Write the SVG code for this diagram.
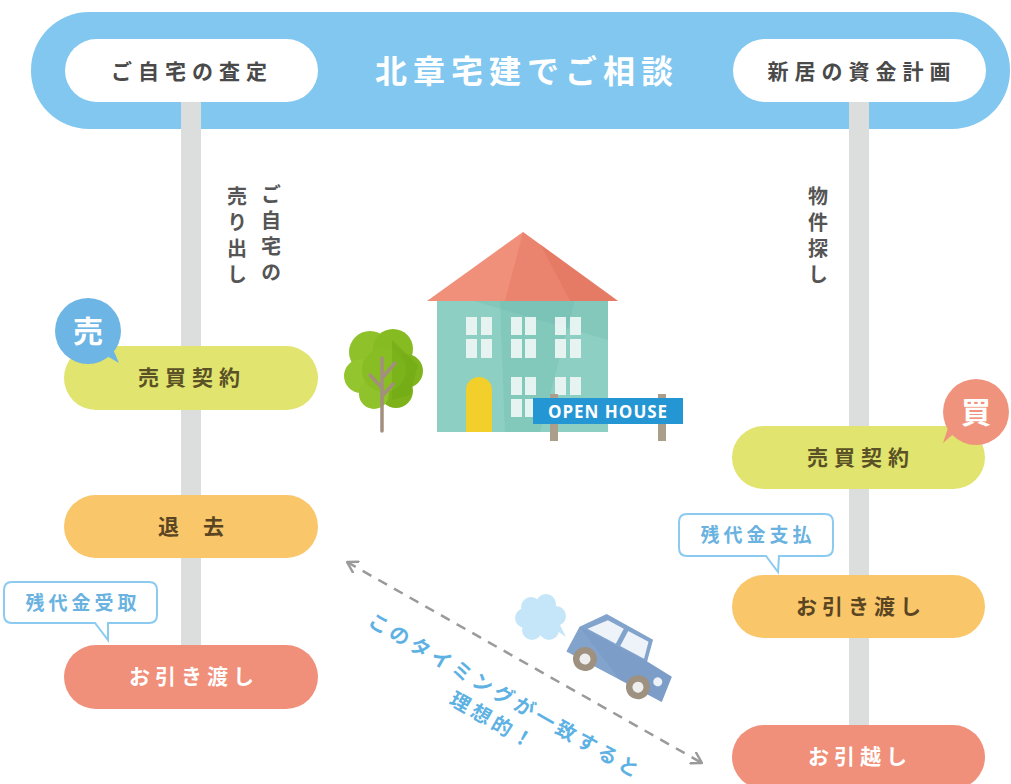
<svg xmlns="http://www.w3.org/2000/svg" width="1011" height="784" viewBox="0 0 1011 784">
  <style>
    .jp { font-family: "Noto Sans CJK JP", "Noto Sans", sans-serif; font-weight: 700; }
    .bar { fill: #dcdddd; }
    .pill-lime { fill: #e1e46e; }
    .pill-orange { fill: #f9c66a; }
    .pill-salmon { fill: #f0907a; }
    .t-lime { fill: #5a5226; font-size: 21px; letter-spacing: 6px; }
    .t-orange { fill: #5a4522; font-size: 21px; letter-spacing: 5px; }
    .t-white { fill: #ffffff; font-size: 21px; letter-spacing: 5px; }
    .t-head { fill: #4a4a4a; font-size: 21px; letter-spacing: 6px; }
    .t-vert { fill: #555555; font-size: 20px; letter-spacing: 6px; writing-mode: vertical-rl; }
    .callout { fill: #ffffff; stroke: #8ccbef; stroke-width: 2; }
    .t-callout { fill: #6ab2df; font-size: 19px; letter-spacing: 4px; }
    .t-diag { fill: #5eb1e3; font-size: 20px; letter-spacing: 4px; }
    .win { fill: #eef6f5; opacity: 0.92; }
  </style>
  <defs>
    <marker id="chev" viewBox="0 0 12 14" refX="11" refY="7" markerWidth="12" markerHeight="14" markerUnits="userSpaceOnUse" orient="auto-start-reverse">
      <path d="M1,1 L11,7 L1,13" fill="none" stroke="#9a9a9a" stroke-width="2.4" stroke-linecap="round" stroke-linejoin="round"/>
    </marker>
  </defs>

  <rect width="1011" height="784" fill="#ffffff"/>

  <!-- header band -->
  <g id="header">
    <rect x="31" y="12" width="979" height="117" rx="58" fill="#81c7ef"/>
    <text class="jp" x="527" y="83" text-anchor="middle" fill="#ffffff" font-size="32" letter-spacing="6">北章宅建でご相談</text>
  </g>

  <!-- timeline rails -->
  <g id="connectors">
    <rect class="bar" x="181" y="100" width="20" height="550"/>
    <rect class="bar" x="849" y="100" width="20" height="630"/>
    <line x1="347" y1="562" x2="702" y2="763" stroke="#9a9a9a" stroke-width="2.5" stroke-dasharray="10 8" marker-start="url(#chev)" marker-end="url(#chev)"/>
  </g>

  <g id="node-satei">
    <rect x="65" y="39" width="253" height="63" rx="31.5" fill="#ffffff"/>
    <text class="jp t-head" x="192" y="79" text-anchor="middle">ご自宅の査定</text>
  </g>
  <g id="node-shikin">
    <rect x="733" y="39" width="253" height="63" rx="31.5" fill="#ffffff"/>
    <text class="jp t-head" x="862" y="79" text-anchor="middle">新居の資金計画</text>
  </g>

  <!-- vertical labels -->
  <g id="label-uridashi">
    <text class="jp t-vert" x="271" y="184">ご自宅の</text>
    <text class="jp t-vert" x="237" y="186">売り出し</text>
  </g>
  <g id="label-bukken">
    <text class="jp t-vert" x="818" y="186">物件探し</text>
  </g>

  <!-- sell side -->
  <g id="node-sell-contract">
    <rect class="pill-lime" x="64" y="346" width="254" height="64" rx="32"/>
    <text class="jp t-lime" x="192" y="385" text-anchor="middle">売買契約</text>
    <path d="M100,352 L119,363 L108,338 Z" fill="#6cb5e4"/>
    <circle cx="88" cy="331" r="33" fill="#6cb5e4"/>
    <text class="jp" x="88" y="342" text-anchor="middle" fill="#ffffff" font-size="30">売</text>
  </g>
  <g id="node-taikyo">
    <rect class="pill-orange" x="64" y="495" width="254" height="63" rx="31.5"/>
    <text class="jp" x="203" y="534" text-anchor="middle" fill="#5a4522" font-size="21" letter-spacing="24">退去</text>
  </g>
  <g id="node-uketori">
    <path class="callout" d="M12,582 H149 Q157,582 157,590 V615 Q157,623 149,623 H108 V640 L95,623 H12 Q4,623 4,615 V590 Q4,582 12,582 Z"/>
    <text class="jp t-callout" x="83" y="610" text-anchor="middle">残代金受取</text>
  </g>
  <g id="node-sell-handover">
    <rect class="pill-salmon" x="64" y="645" width="254" height="64" rx="32"/>
    <text class="jp t-white" x="194" y="684" text-anchor="middle">お引き渡し</text>
  </g>

  <!-- buy side -->
  <g id="node-buy-contract">
    <rect class="pill-lime" x="732" y="426" width="253" height="63" rx="31.5"/>
    <text class="jp t-lime" x="861" y="465" text-anchor="middle">売買契約</text>
    <path d="M958,430 L943,443 L952,416 Z" fill="#f0937c"/>
    <circle cx="976" cy="412" r="33" fill="#f0937c"/>
    <text class="jp" x="976" y="423" text-anchor="middle" fill="#ffffff" font-size="30">買</text>
  </g>
  <g id="node-shiharai">
    <path class="callout" d="M687,514 H825 Q833,514 833,522 V548 Q833,556 825,556 H779 L778,572 L766,556 H687 Q679,556 679,548 V522 Q679,514 687,514 Z"/>
    <text class="jp t-callout" x="758" y="542" text-anchor="middle">残代金支払</text>
  </g>
  <g id="node-buy-handover">
    <rect class="pill-orange" x="732" y="575" width="253" height="63" rx="31.5"/>
    <text class="jp t-orange" x="861" y="614" text-anchor="middle">お引き渡し</text>
  </g>
  <g id="node-hikkoshi">
    <rect class="pill-salmon" x="732" y="725" width="253" height="64" rx="32"/>
    <text class="jp t-white" x="860" y="764" text-anchor="middle">お引越し</text>
  </g>

  <!-- timing note along the dashed arrow -->
  <g id="note-timing">
    <text class="jp t-diag" transform="translate(506,695) rotate(29.8)" text-anchor="middle" dominant-baseline="central">このタイミングが一致すると</text>
    <text class="jp t-diag" transform="translate(494,720) rotate(29.8)" text-anchor="middle" dominant-baseline="central">理想的！</text>
  </g>

  <!-- house with tree and sign -->
  <g id="house">
    <!-- tree -->
    <g id="tree">
      <circle cx="370" cy="352" r="21" fill="#8ec12a"/>
      <circle cx="393" cy="349" r="20" fill="#86bb22"/>
      <circle cx="406" cy="371" r="17" fill="#7fb41c"/>
      <circle cx="361" cy="376" r="17" fill="#93c52e"/>
      <circle cx="396" cy="391" r="17" fill="#7db21b"/>
      <circle cx="374" cy="394" r="15" fill="#8fc22b"/>
      <circle cx="384" cy="370" r="22" fill="#88bd24"/>
      <path d="M392,340 L418,365 L410,395 L392,400 Z" fill="#6da612" opacity="0.45"/>
      <path d="M382,431 V358 M382,388 L370,375 M383,377 L395,363 M383,395 L393,384" stroke="#a28f7d" stroke-width="3.5" fill="none" stroke-linecap="round"/>
    </g>
    <!-- walls -->
    <rect x="437" y="300" width="171" height="132" fill="#8dcfc2"/>
    <path d="M500,300 L575,300 L540,432 L505,432 Z" fill="#6fbaae" opacity="0.35"/>
    <path d="M470,300 L608,300 L608,340 Z" fill="#6fbaae" opacity="0.3"/>
    <!-- roof -->
    <path d="M523,232 L427,301 L618,301 Z" fill="#f0907a"/>
    <path d="M523,232 L618,301 L505,301 Z" fill="#e2705c" opacity="0.35"/>
    <path d="M540,244 L618,301 L570,301 Z" fill="#dc6650" opacity="0.3"/>
    <!-- windows, upper row -->
    <rect class="win" x="466" y="317" width="11" height="18"/><rect class="win" x="481" y="317" width="11" height="18"/>
    <rect class="win" x="466" y="339" width="11" height="19"/><rect class="win" x="481" y="339" width="11" height="19"/>
    <rect class="win" x="511" y="317" width="11" height="18"/><rect class="win" x="525" y="317" width="11" height="18"/>
    <rect class="win" x="511" y="339" width="11" height="19"/><rect class="win" x="525" y="339" width="11" height="19"/>
    <rect class="win" x="555" y="317" width="11" height="18"/><rect class="win" x="570" y="317" width="11" height="18"/>
    <rect class="win" x="555" y="339" width="11" height="19"/><rect class="win" x="570" y="339" width="11" height="19"/>
    <!-- windows, lower row -->
    <rect class="win" x="511" y="377" width="11" height="18"/><rect class="win" x="525" y="377" width="11" height="18"/>
    <rect class="win" x="511" y="399" width="11" height="18"/><rect class="win" x="525" y="399" width="11" height="18"/>
    <rect class="win" x="555" y="377" width="11" height="18"/><rect class="win" x="570" y="377" width="11" height="18"/>
    <!-- door -->
    <path d="M466,432 V390 A13,13 0 0 1 492,390 V432 Z" fill="#f2cf2b"/>
    <!-- sign -->
    <rect x="550" y="394" width="8" height="47" fill="#ab9f8b"/>
    <rect x="658" y="394" width="8" height="47" fill="#ab9f8b"/>
    <rect x="533" y="398" width="150" height="26" fill="#2596d4"/>
    <text x="608" y="418" text-anchor="middle" fill="#ffffff" font-family="'Open Sans', 'Liberation Sans', sans-serif" font-weight="700" font-size="17" letter-spacing="1">OPEN HOUSE</text>
  </g>

  <!-- car with exhaust puff -->
  <g id="car">
    <g fill="#c5e6f8">
      <circle cx="540" cy="618" r="15"/>
      <circle cx="531" cy="607" r="10"/>
      <circle cx="546" cy="604" r="10"/>
      <circle cx="556" cy="616" r="10"/>
      <circle cx="549" cy="630" r="10"/>
      <circle cx="532" cy="630" r="10"/>
      <circle cx="525" cy="618" r="10"/>
      <path d="M550,626 L566,637 L557,619 Z"/>
    </g>
    <g transform="translate(585,659) rotate(28)">
      <path d="M-20,-1 L-20,-26 L-2,-50 L51,-49 L56,-27 L85,-25 L88,2 L-20,2 Z" fill="#82a3cc"/>
      <path d="M-20,-26 L56,-27 L85,-25 L88,2 L40,2 Z" fill="#6f92c0" opacity="0.35"/>
      <path d="M-12,-28 L2,-45 L20,-45 L20,-28 Z" fill="#eef3fa"/>
      <path d="M25,-45 L48,-45 L52,-28 L25,-28 Z" fill="#eef3fa"/>
      <circle cx="75" cy="-14" r="4.5" fill="#eef3fa"/>
      <circle cx="0" cy="0" r="12" fill="#9e9180"/>
      <circle cx="0" cy="0" r="5.5" fill="#eeeeee"/>
      <circle cx="60" cy="0" r="12" fill="#9e9180"/>
      <circle cx="60" cy="0" r="5.5" fill="#eeeeee"/>
    </g>
  </g>
</svg>
